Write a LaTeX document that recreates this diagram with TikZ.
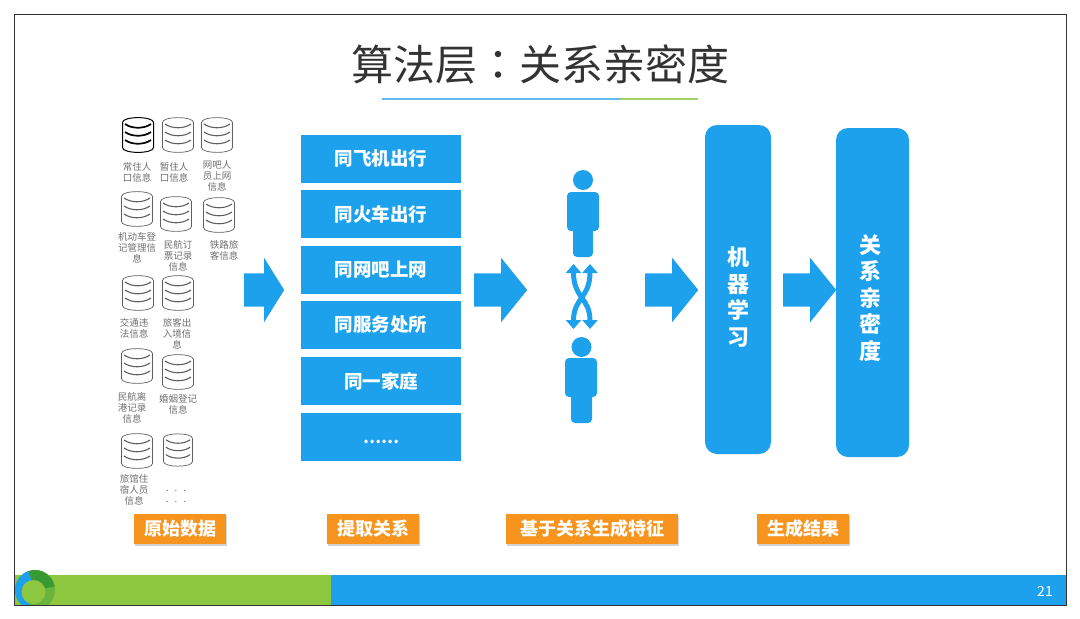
\documentclass[tikz,border=0pt]{standalone}
\usepackage{fontspec}
\setmainfont{Noto Sans CJK SC}
\newfontfamily\cjktc{Noto Sans CJK TC}
\definecolor{slideblue}{RGB}{29, 161, 236}
\definecolor{slidegreen}{RGB}{141, 198, 63}
\definecolor{slidemid}{RGB}{105, 180, 60}
\definecolor{slidedark}{RGB}{56, 154, 50}
\definecolor{slideorange}{RGB}{247, 148, 29}
\definecolor{titlegray}{RGB}{51, 51, 51}
\definecolor{labelgray}{RGB}{110, 110, 110}
\definecolor{dbgray}{RGB}{95, 95, 95}
\usetikzlibrary{arrows.meta,positioning,shapes.arrows,shadows}

\tikzset{
    relbox/.style={rectangle, fill=slideblue, text=white, minimum width=160pt, minimum height=48pt, inner sep=0pt, font=\fontsize{18.5}{20}\selectfont\bfseries},
    tallbox/.style={rectangle, rounded corners=12pt, fill=slideblue, inner sep=0pt},
    talltext/.style={text=white, inner sep=0pt, align=center, font=\fontsize{22}{26.5}\selectfont\bfseries},
    flowarrow/.style={single arrow, anchor=tail, fill=slideblue, inner sep=0pt, text height=33pt, text depth=0pt, single arrow head extend=15.5pt},
    taglabel/.style={rectangle, fill=slideorange, text=white, minimum height=30pt, inner sep=0pt, drop shadow={shadow xshift=1pt, shadow yshift=-2pt, opacity=0.35}, font=\fontsize{18}{20}\selectfont\bfseries},
    dblabel/.style={text=labelgray, align=center, inner sep=0pt, font=\fontsize{9.5}{11}\selectfont},
    dbrim/.style={line width=0.7pt, draw=dbgray},
    dbbar/.style={line width=1.1pt, draw=dbgray},
    dbicon/.pic={
        \draw[dbrim, fill=white] (-15.5,-12.5) .. controls (-15.5,-19) and (15.5,-19) .. (15.5,-12.5) -- (15.5,12.5) .. controls (15.5,19) and (-15.5,19) .. (-15.5,12.5) -- cycle;
        \foreach \liney in {-7,1,9} {
            \draw[dbbar] (-13,\liney-4) .. controls (-6,\liney+1) and (6,\liney+1) .. (13,\liney-4);
        }
    }
}

\begin{document}
\begin{tikzpicture}[x=1pt, y=-1pt]
    \useasboundingbox (0,0) rectangle (1080,619);

    \fill[slidegreen] (14,575) rectangle (331,605);
    \fill[slideblue] (331,575) rectangle (1066,605);
    \begin{scope}
        \clip (14,565) rectangle (66,605);
        \fill[slidemid] (35,590) circle[radius=20pt];
        \fill[slidedark] (35,590) -- ++(10:20pt) arc[start angle=10, end angle=110, radius=20pt] -- cycle;
        \fill[slideblue] (35,590) -- ++(110:20pt) arc[start angle=110, end angle=250, radius=20pt] -- cycle;
        \fill[slidegreen] (33.5,592) circle[radius=12pt];
    \end{scope}
    \draw[line width=0.8pt, draw=titlegray] (14,14) rectangle (1066,605);
    \node[text=white, font=\fontsize{14}{16}\selectfont] (pagenum) at (1045,591) {21};

    \node[text=titlegray, inner sep=0pt, font=\fontsize{42}{46}\selectfont] (title) at (540,65) {算法层{\cjktc\symbol{"FF1A}}关系亲密度};
    \draw[line width=1.3pt, slideblue!70] (382,99) -- (620,99);
    \draw[line width=1.3pt, slidegreen!80] (620,99) -- (698,99);

    \pic[dbrim/.style={line width=1pt, draw=black}, dbbar/.style={line width=1.7pt, draw=black}] at (138,135) {dbicon};
    \pic at (178,135) {dbicon};
    \pic at (217,135) {dbicon};
    \pic at (137,209) {dbicon};
    \pic at (176,214) {dbicon};
    \pic at (219,215) {dbicon};
    \pic at (138,293) {dbicon};
    \pic at (178,293) {dbicon};
    \pic at (137,366) {dbicon};
    \pic at (178,372) {dbicon};
    \pic at (137,451) {dbicon};
    \pic[scale=0.93] at (178,450) {dbicon};

    \node[dblabel] (db1) at (137,172) {常住人\\口信息};
    \node[dblabel] (db2) at (174,172) {暂住人\\口信息};
    \node[dblabel] (db3) at (217,176) {网吧人\\员上网\\信息};
    \node[dblabel] (db4) at (137,248) {机动车登\\记管理信\\息};
    \node[dblabel] (db5) at (178,256) {民航订\\票记录\\信息};
    \node[dblabel] (db6) at (224,250) {铁路旅\\客信息};
    \node[dblabel] (db7) at (134,328) {交通违\\法信息};
    \node[dblabel] (db8) at (177,334) {旅客出\\入境信\\息};
    \node[dblabel] (db9) at (132,408) {民航离\\港记录\\信息};
    \node[dblabel] (db10) at (178,404) {婚姻登记\\信息};
    \node[dblabel] (db11) at (134,490) {旅馆住\\宿人员\\信息};
    \node[dblabel] (db12) at (176,496) {.\hspace{6pt}.\hspace{6pt}.\\.\hspace{6pt}.\hspace{6pt}.};

    \node[flowarrow, minimum height=40pt, single arrow tip angle=116] (arrowdata) at (244,290) {};
    \node[flowarrow, minimum height=53pt, single arrow tip angle=102] (arrowrel) at (474,290) {};
    \node[flowarrow, minimum height=53pt, single arrow tip angle=102] (arrowfeat) at (645,290) {};
    \node[flowarrow, minimum height=53pt, single arrow tip angle=102] (arrowlearn) at (783,290) {};

    \node[relbox] (rel1) at (381,158.5) {同飞机出行};
    \node[relbox] (rel2) at (381,214) {同火车出行};
    \node[relbox] (rel3) at (381,270) {同网吧上网};
    \node[relbox] (rel4) at (381,325) {同服务处所};
    \node[relbox] (rel5) at (381,381) {同一家庭};
    \node[relbox] (rel6) at (381,436.5) {\fontsize{16}{18}\selectfont\raisebox{-7pt}[0pt][0pt]{……}};

    \fill[slideblue] (583,180) circle[radius=10pt];
    \fill[slideblue, rounded corners=4pt] (567,192) rectangle (599,231);
    \fill[slideblue, rounded corners=4pt] (573,215) rectangle (593,257);
    \fill[slideblue] (581.5,347) circle[radius=10pt];
    \fill[slideblue, rounded corners=4pt] (565,358) rectangle (597,397);
    \fill[slideblue, rounded corners=4pt] (571,380) rectangle (592,423);

    \coordinate (crossTL) at (573.5,264);
    \coordinate (crossTR) at (590,264);
    \coordinate (crossBL) at (573.5,329);
    \coordinate (crossBR) at (590,329);
    \draw[{Triangle[width=15pt,length=9pt]}-{Triangle[width=15pt,length=9pt]}, line width=5pt, slideblue] (crossBL) .. controls (573.5,298) and (590,298) .. (crossTR);
    \draw[{Triangle[width=15pt,length=9pt]}-{Triangle[width=15pt,length=9pt]}, line width=5pt, slideblue] (crossBR) .. controls (590,298) and (573.5,298) .. (crossTL);

    \node[tallbox, minimum width=66pt, minimum height=329pt] (learn) at (738,289.5) {};
    \node[tallbox, minimum width=73pt, minimum height=329pt] (result) at (872.5,292.5) {};
    \node[talltext] (learntext) at (738,297) {机\\器\\学\\习};
    \node[talltext] (resulttext) at (870,298) {关\\系\\亲\\密\\度};

    \node[taglabel, minimum width=92pt] (tag1) at (180,529) {原始数据};
    \node[taglabel, minimum width=92pt] (tag2) at (373,529) {提取关系};
    \node[taglabel, minimum width=172pt] (tag3) at (592,529) {基于关系生成特征};
    \node[taglabel, minimum width=92pt] (tag4) at (803,529) {生成结果};
\end{tikzpicture}
\end{document}
